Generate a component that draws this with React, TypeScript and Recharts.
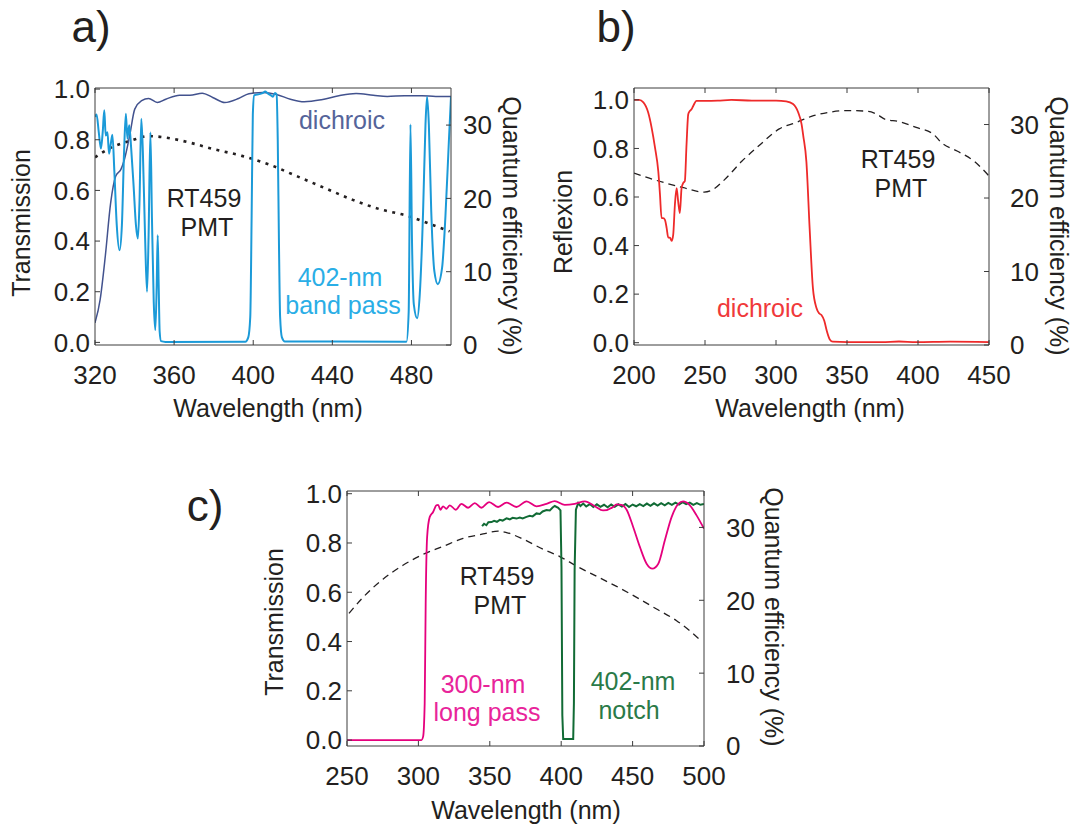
import React from 'react';
import { LineChart, Line, XAxis, YAxis, ReferenceLine } from 'recharts';

type Pt = [number, number];

// ---- panel a: 402-nm band pass + dichroic, transmission vs wavelength (nm)
const aTicksX = [320, 360, 400, 440, 480];
const aDichroic: Pt[] = [
  [320, 0.077], [322.6, 0.169], [325.2, 0.34], [327.9, 0.55], [330.5, 0.657], [333.1, 0.683],
  [334.9, 0.723], [337.5, 0.815], [340.1, 0.921], [343.6, 0.954], [347.1, 0.963], [351.5, 0.947],
  [355.8, 0.96], [362.8, 0.976], [368, 0.976], [374.2, 0.984], [379.5, 0.967], [385.6, 0.947],
  [392.6, 0.963], [397.8, 0.982], [404.8, 0.987], [411.8, 0.979], [418.8, 0.96], [425.8, 0.95],
  [434.5, 0.958], [443.3, 0.974], [452, 0.983], [460.7, 0.976], [467.8, 0.971], [476.5, 0.974],
  [485.3, 0.974], [492.3, 0.971], [500, 0.971],
];
const aBandPass: Pt[] = [
  [320, 0.89], [320.8, 0.9], [321.9, 0.83], [323, 0.765], [323.9, 0.83], [324.7, 0.916], [325.4, 0.817],
  [326.3, 0.83], [327.1, 0.745], [328, 0.785], [328.8, 0.82], [329.8, 0.673], [331, 0.463], [332.4, 0.364],
  [333.6, 0.463], [334.7, 0.752], [335.6, 0.903], [336.4, 0.804], [337.3, 0.857], [338.3, 0.765],
  [339.5, 0.62], [340.7, 0.463], [341.7, 0.41], [342.5, 0.555], [343.4, 0.883], [344.2, 0.752],
  [345.3, 0.423], [346.3, 0.2], [347.1, 0.423], [348, 0.83], [348.8, 0.489], [349.7, 0.16], [350.5, 0.049],
  [351.2, 0.226], [351.7, 0.423], [352.2, 0.226], [352.7, 0.042], [353.4, 0.005], [355.6, 0.002],
  [396, 0.003], [397.5, 0.02], [398.5, 0.1], [399.2, 0.5], [399.8, 0.9], [400.5, 0.975], [403, 0.98],
  [405, 0.985], [406, 0.99], [407.5, 0.982], [409, 0.975], [410, 0.97], [411, 0.985], [411.8, 0.98],
  [412.4, 0.8], [413, 0.4], [413.6, 0.1], [414.5, 0.02], [416, 0.004], [477.5, 0.003], [478.6, 0.12],
  [479.5, 0.86], [480.3, 0.39], [481.2, 0.15], [482.9, 0.095], [484.2, 0.188], [485.9, 0.52], [487.1, 0.86],
  [487.9, 0.97], [488.8, 0.86], [490, 0.52], [491.6, 0.28], [493.3, 0.23], [495.5, 0.295], [497.2, 0.5],
  [498.9, 0.79], [500, 0.97],
];
const aQE: Pt[] = [
  [320, 25.6], [327.9, 26.9], [338.4, 27.9], [347.1, 28.5], [355.8, 28.3], [368, 27.6], [380.3, 26.7],
  [394.3, 25.8], [408.3, 24.6], [422.3, 23.0], [436.3, 21.4], [450.3, 19.8], [464.3, 18.5], [478.3, 17.6],
  [490.5, 16.4], [499.3, 15.5],
];

// ---- panel b: dichroic reflexion
const bTicksX = [200, 250, 300, 350, 400, 450];
const bDichroic: Pt[] = [
  [200, 1.0], [203.6, 1.0], [206.6, 0.99], [210, 0.948], [212.4, 0.886], [214.8, 0.803], [217.1, 0.706],
  [218.3, 0.61], [219.4, 0.513], [220.6, 0.513], [221.8, 0.506], [223, 0.472], [224.1, 0.433], [225.3, 0.433],
  [226.5, 0.419], [227.6, 0.444], [228.8, 0.568], [230, 0.637], [231.1, 0.582], [232.3, 0.534], [233.5, 0.637],
  [234.7, 0.658], [235.8, 0.665], [237, 0.817], [238.2, 0.941], [239.3, 0.954], [240.5, 0.961], [241.7, 0.975],
  [244, 0.996], [250, 0.996], [259, 0.997], [268.6, 1.0], [283.1, 0.997], [300, 0.997], [307.2, 0.994],
  [312, 0.983], [315.6, 0.949], [318, 0.9], [319.2, 0.852], [321.4, 0.746], [323.7, 0.47], [326, 0.225],
  [328.5, 0.143], [330.5, 0.12], [332, 0.114], [334, 0.09], [335.7, 0.05], [338, 0.012], [340, 0.004],
  [350.5, 0.002], [374.6, 0.002], [386.6, 0.005], [398.7, 0.002], [422.7, 0.004], [450, 0.002],
];
const bQE: Pt[] = [
  [200, 23.4], [210.8, 22.7], [222.9, 22.0], [234.9, 21.4], [249.4, 20.8], [254.2, 21.0], [263.8, 22.5],
  [275.9, 25.0], [287.9, 27.1], [302.3, 29.4], [314.4, 30.3], [326.4, 31.2], [338.5, 31.7], [350.5, 31.9],
  [365, 31.8], [371, 31.4], [377, 30.7], [386.6, 30.4], [398.7, 29.6], [410.7, 28.7], [416.7, 27.5],
  [427.5, 26.4], [439.6, 25.0], [450, 23.0],
];

// ---- panel c: 300-nm long pass + 402-nm notch
const cTicksX = [250, 300, 350, 400, 450, 500];
const cLongPass: Pt[] = [
  [250, 0.0], [302.1, 0.0], [303.3, 0.014], [304.4, 0.149], [305.1, 0.554], [306.1, 0.824], [307.9, 0.905],
  [310.3, 0.926], [312.6, 0.953], [313.8, 0.955], [315.4, 0.935], [317.3, 0.949], [319.6, 0.939], [322, 0.953],
  [326.2, 0.935], [330.1, 0.959], [334.8, 0.943], [339.5, 0.962], [344.1, 0.943], [349.5, 0.966], [355.8, 0.946],
  [361.7, 0.964], [368.7, 0.946], [375.7, 0.969], [382.7, 0.949], [389.7, 0.959], [395.5, 0.97], [402.5, 0.955],
  [409.5, 0.959], [416.6, 0.969], [423.6, 0.949], [429.3, 0.932], [436.4, 0.946], [438.7, 0.957], [442.3, 0.955],
  [445.8, 0.935], [450.4, 0.865], [455.1, 0.784], [459.8, 0.716], [463.9, 0.696], [468, 0.716], [472.6, 0.811],
  [477.3, 0.905], [482, 0.959], [485.3, 0.969], [490.1, 0.953], [494.8, 0.912], [500, 0.858],
];
const cNotch: Pt[] = [
  [344.6, 0.868], [346, 0.878], [347.6, 0.872], [349, 0.884], [351.2, 0.885], [353, 0.89], [355, 0.886],
  [357, 0.894], [359, 0.891], [361.7, 0.9], [364, 0.896], [366, 0.902], [368.7, 0.899], [371, 0.903],
  [373, 0.9], [375.7, 0.906], [378, 0.91], [380, 0.908], [382.7, 0.92], [385, 0.918], [387, 0.928],
  [389.7, 0.934], [392, 0.932], [394, 0.944], [395.5, 0.95], [397.9, 0.943], [399.5, 0.932], [400.2, 0.7],
  [400.8, 0.1], [401.4, 0.004], [408.4, 0.004], [408.9, 0.15], [409.4, 0.69], [410.3, 0.935], [411.9, 0.962],
  [413.5, 0.95], [415.4, 0.96], [417.5, 0.948], [420, 0.958], [422.5, 0.946], [425, 0.957], [427.5, 0.947],
  [430, 0.955], [432.5, 0.945], [435, 0.956], [437.5, 0.947], [440, 0.957], [442.5, 0.948], [445, 0.958],
  [447.5, 0.946], [450, 0.956], [452.5, 0.949], [455, 0.958], [457.5, 0.95], [460, 0.96], [462.5, 0.951],
  [465, 0.961], [467.5, 0.952], [470, 0.962], [472.5, 0.953], [475, 0.963], [477.5, 0.955], [480, 0.964],
  [482.5, 0.956], [485, 0.966], [487.5, 0.958], [490, 0.964], [492.5, 0.955], [495, 0.962], [497.5, 0.955],
  [500, 0.958],
];
const cQE: Pt[] = [
  [251.4, 18.2], [261.2, 20.4], [275.2, 22.9], [289.2, 24.8], [303.3, 26.3], [317.3, 27.4], [331.3, 28.5],
  [345.3, 29.1], [355.8, 29.5], [361.7, 29.3], [373.3, 28.4], [387.4, 27.0], [399, 26.0], [410.7, 24.7],
  [424.7, 23.3], [438.8, 21.9], [452.8, 20.4], [466.8, 18.8], [480.8, 17.2], [498.3, 14.4],
];

const leftTicks = [0, 0.2, 0.4, 0.6, 0.8, 1.0];
const qeTicks = [0, 10, 20, 30];

const FONT = '"Liberation Sans", Arial, Helvetica, sans-serif';
const INK = '#231f20';
const FRAME = '#3c3c3c';
const TICK_FS = 26;

const toRows = (pts: Pt[]) => pts.map(([x, y]) => ({ x, y }));

interface SeriesDef {
  pts: Pt[];
  axis: 'l' | 'r';
  color: string;
  width: number;
  dash?: string;
  type?: 'monotone' | 'linear';
}

interface PanelProps {
  left: number; top: number; w: number; h: number;
  xDomain: [number, number]; xTicks: number[];
  yDomain: [number, number];
  qeDomain: [number, number];
  qeGap: number;
  series: SeriesDef[];
}

const PAD_L = 75, PAD_R = 60, PAD_T = 20, PAD_B = 50;

function Panel(p: PanelProps) {
  const { w, h } = p;

  const XTick = (props: any) => {
    const { x, y, payload } = props;
    return (
      <g>
        <line x1={x} y1={y} x2={x} y2={y - 5} stroke={FRAME} />
        <line x1={x} y1={y - h} x2={x} y2={y - h + 5} stroke={FRAME} />
        <text x={x} y={y + 39} textAnchor="middle" fontSize={TICK_FS} fill={INK} fontFamily={FONT}>{payload.value}</text>
      </g>
    );
  };
  const LTick = (props: any) => {
    const { x, y, payload } = props;
    return (
      <g>
        <line x1={x} y1={y} x2={x + 5} y2={y} stroke={FRAME} />
        <text x={x - 5} y={y} dy="0.36em" textAnchor="end" fontSize={TICK_FS} fill={INK} fontFamily={FONT}>
          {Number(payload.value).toFixed(1)}
        </text>
      </g>
    );
  };
  const RTick = (props: any) => {
    const { x, y, payload } = props;
    return (
      <g>
        <line x1={x} y1={y} x2={x - 5} y2={y} stroke={FRAME} />
        <text x={x + p.qeGap} y={y} dy="0.36em" textAnchor="start" fontSize={TICK_FS} fill={INK} fontFamily={FONT}>
          {payload.value}
        </text>
      </g>
    );
  };

  return (
    <div style={{ position: 'absolute', left: p.left - PAD_L, top: p.top - PAD_T }}>
      <LineChart width={w + PAD_L + PAD_R} height={h + PAD_T + PAD_B} margin={{ top: PAD_T, right: 0, bottom: 0, left: 0 }}>
        <XAxis type="number" dataKey="x" domain={p.xDomain} ticks={p.xTicks} interval={0} allowDataOverflow
          height={PAD_B} tickSize={0} tickMargin={0} tick={XTick} axisLine={{ stroke: FRAME }} />
        <YAxis yAxisId="l" type="number" domain={p.yDomain} ticks={leftTicks} interval={0} allowDataOverflow
          width={PAD_L} tickSize={0} tickMargin={0} tick={LTick} axisLine={{ stroke: FRAME }} />
        <YAxis yAxisId="r" orientation="right" type="number" domain={p.qeDomain} ticks={qeTicks} interval={0} allowDataOverflow
          width={PAD_R} tickSize={0} tickMargin={0} tick={RTick} axisLine={{ stroke: FRAME }} />
        <ReferenceLine yAxisId="l" y={p.yDomain[1]} stroke={FRAME} />
        {p.series.map((s, i) => (
          <Line key={i} data={toRows(s.pts)} dataKey="y" yAxisId={s.axis} type={s.type ?? 'monotone'}
            stroke={s.color} strokeWidth={s.width} strokeDasharray={s.dash} dot={false}
            isAnimationActive={false} />
        ))}
      </LineChart>
    </div>
  );
}

const T = (props: { x: number; y: number; size?: number; color?: string; rot?: number; children: React.ReactNode }) => {
  const { x, y, size = 25, color = INK, rot = 0 } = props;
  return (
    <text transform={`translate(${x},${y}) rotate(${rot})`} textAnchor="middle"
      dominantBaseline={rot ? 'central' : 'auto'} fontSize={size} fill={color} fontFamily={FONT}>
      {props.children}
    </text>
  );
};

export default function App() {
  return (
    <div style={{ position: 'absolute', left: 0, top: 0, width: 1077, height: 828, background: '#fff', overflow: 'hidden' }}>
      <Panel left={95} top={88} w={356} h={257} xDomain={[320, 500]} xTicks={aTicksX}
        yDomain={[-0.0103, 1.0043]} qeDomain={[0, 35.06]} qeGap={12}
        series={[
          { pts: aQE, axis: 'r', color: INK, width: 2.6, dash: '3 5.5' },
          { pts: aDichroic, axis: 'l', color: '#42528e', width: 1.5 },
          { pts: aBandPass, axis: 'l', color: '#1b9ad8', width: 2 },
        ]} />
      <Panel left={634} top={88} w={355} h={257} xDomain={[200, 450]} xTicks={bTicksX}
        yDomain={[-0.0095, 1.049]} qeDomain={[0, 34.97]} qeGap={21}
        series={[
          { pts: bQE, axis: 'r', color: INK, width: 1.3, dash: '7 5' },
          { pts: bDichroic, axis: 'l', color: '#ee2a2a', width: 1.8 },
        ]} />
      <Panel left={347} top={491} w={357} h={255} xDomain={[250, 500]} xTicks={cTicksX}
        yDomain={[-0.024, 1.011]} qeDomain={[0, 35.0]} qeGap={22}
        series={[
          { pts: cQE, axis: 'r', color: INK, width: 1.3, dash: '7 5' },
          { pts: cNotch, axis: 'l', color: '#116b35', width: 2, type: 'linear' },
          { pts: cLongPass, axis: 'l', color: '#e5007d', width: 1.8 },
        ]} />

      <svg width={1077} height={828} style={{ position: 'absolute', left: 0, top: 0, pointerEvents: 'none' }}>
        {/* panel letters */}
        <T x={91} y={42} size={44}>a)</T>
        <T x={616} y={42} size={44}>b)</T>
        <T x={205} y={521} size={44}>c)</T>

        {/* axis titles */}
        <T x={21} y={223} rot={-90}>Transmission</T>
        <T x={512} y={226} rot={90}>Quantum efficiency (%)</T>
        <T x={268} y={417}>Wavelength (nm)</T>

        <T x={563} y={222} rot={-90}>Reflexion</T>
        <T x={1059} y={226} rot={90}>Quantum efficiency (%)</T>
        <T x={810} y={417}>Wavelength (nm)</T>

        <T x={274} y={622} rot={-90}>Transmission</T>
        <T x={774} y={617} rot={90}>Quantum efficiency (%)</T>
        <T x={526} y={819}>Wavelength (nm)</T>

        {/* annotations */}
        <T x={342} y={129} color="#55649a">dichroic</T>
        <T x={204} y={207}>RT459</T>
        <T x={207} y={236}>PMT</T>
        <T x={340} y={286} color="#2aaee6">402-nm</T>
        <T x={343} y={314} color="#2aaee6">band pass</T>

        <T x={898} y={168}>RT459</T>
        <T x={901} y={197}>PMT</T>
        <T x={760} y={317} color="#f0393b">dichroic</T>

        <T x={497} y={585}>RT459</T>
        <T x={500} y={614}>PMT</T>
        <T x={483} y={693} color="#e8249a">300-nm</T>
        <T x={487} y={721} color="#e8249a">long pass</T>
        <T x={633} y={690} color="#2a7a48">402-nm</T>
        <T x={629} y={719} color="#2a7a48">notch</T>
      </svg>
    </div>
  );
}
